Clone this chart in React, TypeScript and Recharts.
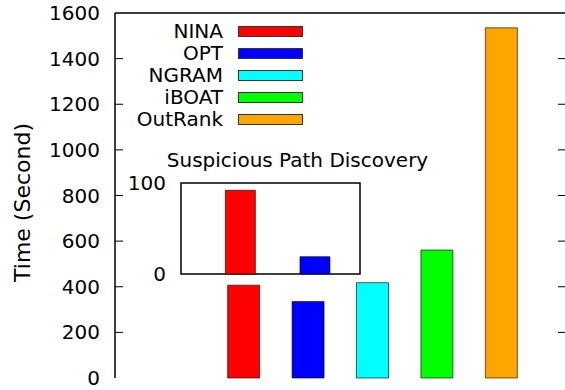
import React from 'react';
import {
  BarChart,
  Bar,
  Cell,
  XAxis,
  YAxis,
  ReferenceLine,
  ReferenceArea,
} from 'recharts';

// main chart: running time per method
const methods = ['NINA', 'OPT', 'NGRAM', 'iBOAT', 'OutRank'];
const methodColors = ['#ff0000', '#0000ff', '#00ffff', '#00ff00', '#ffa500'];
const methodSlots = [2, 3, 4, 5, 6];
const timeSeconds = [407, 335, 418, 561, 1535];
const yTicks = [0, 200, 400, 600, 800, 1000, 1200, 1400, 1600];

// inset: suspicious path discovery
const insetMethods = ['NINA', 'OPT'];
const insetSlots = [0, 1];
const insetValues = [92, 19];
const insetTicks = [0, 100];

const FONT = '"DejaVu Sans", sans-serif';

const mainData = methods.map((name, i) => ({
  name,
  x: methodSlots[i],
  time: timeSeconds[i],
}));

const insetData = insetMethods.map((name, i) => ({
  name,
  x: insetSlots[i],
  value: insetValues[i],
}));

const YLabel = (props: any) => {
  const { viewBox } = props;
  const cx = 22;
  const cy = viewBox.y + viewBox.height / 2 + 7;
  return (
    <text
      x={cx}
      y={cy}
      transform={`rotate(-90, ${cx}, ${cy})`}
      textAnchor="middle"
      dominantBaseline="central"
      fontFamily={FONT}
      fontSize={22}
      fill="#000"
    >
      Time (Second)
    </text>
  );
};

export default function App() {
  return (
    <div
      style={{
        position: 'absolute',
        left: 0,
        top: 0,
        width: 565,
        height: 390,
        overflow: 'hidden',
        background: '#fff',
        fontFamily: FONT,
      }}
    >
      <BarChart
        width={566}
        height={390}
        data={mainData}
        margin={{ top: 13, right: 0, bottom: 12, left: 0 }}
      >
        <XAxis
          dataKey="x"
          type="number"
          domain={[0, 7]}
          height={0}
          tick={false}
          tickLine={false}
          axisLine={{ stroke: '#000', strokeWidth: 1.5 }}
        />
        <YAxis
          type="number"
          domain={[0, 1600]}
          ticks={yTicks}
          interval={0}
          width={115}
          tickSize={0}
          tickMargin={15}
          tickLine={false}
          axisLine={{ stroke: '#000', strokeWidth: 1.5 }}
          tick={{ fontFamily: FONT, fontSize: 20, fill: '#000' }}
          label={<YLabel />}
        />
        <ReferenceLine y={1600} stroke="#000" strokeWidth={1.5} />
        {yTicks.slice(1, -1).map((t) => (
          <ReferenceLine
            key={`l${t}`}
            segment={[
              { x: 0, y: t },
              { x: 0.125, y: t },
            ]}
            stroke="#000"
            strokeWidth={1}
          />
        ))}
        {yTicks.slice(1, -1).map((t) => (
          <ReferenceLine
            key={`r${t}`}
            segment={[
              { x: 6.875, y: t },
              { x: 7, y: t },
            ]}
            stroke="#000"
            strokeWidth={1}
          />
        ))}
        <Bar
          dataKey="time"
          barSize={32}
          stroke="#000"
          strokeOpacity={0.6}
          strokeWidth={1}
          isAnimationActive={false}
        >
          {mainData.map((d, i) => (
            <Cell key={d.name} fill={methodColors[i]} />
          ))}
        </Bar>
      </BarChart>

      {/* legend */}
      <div style={{ position: 'absolute', left: 100, top: 21 }}>
        {methods.map((name, i) => (
          <div
            key={name}
            style={{ display: 'flex', alignItems: 'center', height: 21.9 }}
          >
            <span
              style={{
                width: 123,
                textAlign: 'right',
                fontSize: 20,
                lineHeight: '21.9px',
                color: '#000',
              }}
            >
              {name}
            </span>
            <span
              style={{
                marginLeft: 15,
                width: 63,
                height: 9,
                background: methodColors[i],
                border: '1px solid #333',
              }}
            />
          </div>
        ))}
      </div>

      {/* inset title */}
      <div
        style={{
          position: 'absolute',
          left: 120,
          top: 148,
          width: 355,
          textAlign: 'center',
          fontSize: 20,
          color: '#000',
          whiteSpace: 'nowrap',
        }}
      >
        Suspicious Path Discovery
      </div>

      <div style={{ position: 'absolute', left: 120, top: 150 }}>
        <BarChart
          width={245}
          height={140}
          data={insetData}
          margin={{ top: 33, right: 5, bottom: 16, left: 0 }}
        >
          <XAxis
            dataKey="x"
            type="number"
            domain={[-0.8, 1.6]}
            height={0}
            tick={false}
            tickLine={false}
            axisLine={false}
          />
          <YAxis
            type="number"
            domain={[0, 100]}
            ticks={insetTicks}
            interval={0}
            width={61}
            tickSize={0}
            tickMargin={15}
            tickLine={false}
            axisLine={false}
            tick={{ fontFamily: FONT, fontSize: 20, fill: '#000' }}
          />
          <ReferenceArea
            x1={-0.8}
            x2={1.6}
            y1={0}
            y2={100}
            fill="none"
            stroke="#000"
            strokeWidth={1.5}
          />
          <Bar
            dataKey="value"
            barSize={30}
            stroke="#000"
            strokeOpacity={0.6}
            strokeWidth={1}
            isAnimationActive={false}
          >
            {insetData.map((d, i) => (
              <Cell key={d.name} fill={methodColors[i]} />
            ))}
          </Bar>
        </BarChart>
      </div>
    </div>
  );
}
